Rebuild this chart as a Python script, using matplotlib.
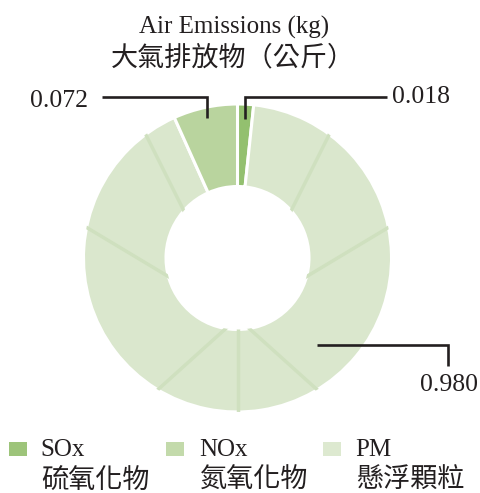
import numpy as np
import matplotlib
matplotlib.use("Agg")
import matplotlib.pyplot as plt
from matplotlib.patches import Rectangle

# ---- data ----
categories_en = ["SOx", "NOx", "PM"]
categories_zh = ["硫氧化物", "氮氧化物", "懸浮顆粒"]
values = [0.018, 0.072, 0.980]
value_labels = ["0.018", "0.072", "0.980"]
title_en = "Air Emissions (kg)"
title_zh = "大氣排放物（公斤）"

# pie order clockwise from 12 o'clock: SOx, PM, NOx
pie_order = [0, 2, 1]

wedge_colors = ["#93c06f", "#b9d49e", "#dae7cd"]
legend_colors = ["#9dc47a", "#c3daab", "#dde9d0"]
vein_colors = ["#86b562", "#abca8d", "#cfe0bf"]

W, H = 481, 493
CX, CY = 237.5, 258.0
R_OUT, R_IN = 154.0, 71.5

serif = ["Liberation Serif", "DejaVu Serif"]
cjk = ["Noto Sans CJK TC", "DejaVu Sans"]
tc = "#231f20"

fig = plt.figure(figsize=(W / 100, H / 100), dpi=100)
ax = fig.add_axes([0, 0, 1, 1])

vals = [values[i] for i in pie_order]
cols = [wedge_colors[i] for i in pie_order]
vcols = [vein_colors[i] for i in pie_order]
wedges, _ = ax.pie(vals, colors=cols, startangle=90, counterclock=False,
                   radius=R_OUT,
                   wedgeprops=dict(width=R_OUT - R_IN, edgecolor="white", linewidth=2.2))
ax.set_xlim(-CX, W - CX)
ax.set_ylim(-(H - CY), CY)
ax.set_aspect("equal")
ax.axis("off")

# faint leaf veins (decorative texture), clipped to each wedge
vein_dirs = [(0, -1), (-1, -0.9), (1, -0.9), (-1, 0.6), (1, 0.6), (-0.5, 1), (0.5, 1)]
for w, vc in zip(wedges, vcols):
    for dx, dy in vein_dirs:
        n = np.hypot(dx, dy)
        L = 170 if dy < 0 else 300
        ln, = ax.plot([0, L * dx / n], [-60, -60 + L * dy / n],
                      color=vc, lw=2.5, zorder=w.get_zorder() + 0.1)
        ln.set_clip_path(w)

def pxy(px, py):
    return px - CX, CY - py

lw = 1.9

def mid_point(idx, r):
    w = wedges[pie_order.index(idx)]
    a = np.deg2rad((w.theta1 + w.theta2) / 2)
    return r * np.cos(a), r * np.sin(a)

vfs = 18.5

# SOx
x0, y0 = mid_point(0, 139)
_, yh = pxy(0, 97)
xe, _ = pxy(387, 0)
ax.plot([x0, x0, xe], [y0, yh, yh], color=tc, lw=lw, solid_capstyle="butt", solid_joinstyle="miter", zorder=5)
tx, ty = pxy(392, 97)
ax.text(tx, ty, value_labels[0], family=serif, fontsize=vfs, color=tc, ha="left", va="center")

# NOx
x0, y0 = mid_point(1, 143)
xe, _ = pxy(102, 0)
ax.plot([x0, x0, xe], [y0, yh, yh], color=tc, lw=lw, solid_capstyle="butt", solid_joinstyle="miter", zorder=5)
tx, ty = pxy(88, 101)
ax.text(tx, ty, value_labels[1], family=serif, fontsize=vfs, color=tc, ha="right", va="center")

# PM
a = np.deg2rad(-47.6)
x0, y0 = 118 * np.cos(a), 118 * np.sin(a)
xe, _ = pxy(448, 0)
_, ye = pxy(0, 366)
ax.plot([x0, xe, xe], [y0, y0, ye], color=tc, lw=lw, solid_capstyle="butt", solid_joinstyle="miter", zorder=5)
tx, ty = pxy(478, 385)
ax.text(tx, ty, value_labels[2], family=serif, fontsize=vfs, color=tc, ha="right", va="center")

# titles
tx, ty = pxy(234, 27)
ax.text(tx, ty, title_en, family=serif, fontsize=18, color=tc, ha="center", va="center")
tx, ty = pxy(233, 58)
ax.text(tx, ty, title_zh, family=cjk, fontsize=19.5, color=tc, ha="center", va="center")

# legend
sq_x = [9, 166, 323]
txt_x = [40, 199, 355]
for i in range(3):
    x, y = pxy(sq_x[i], 456)
    ax.add_patch(Rectangle((x, y), 18, 14, facecolor=legend_colors[i], edgecolor="none"))
    tx, ty = pxy(txt_x[i], 450)
    ax.text(tx, ty, categories_en[i], family=serif, fontsize=18, color=tc, ha="left", va="center")
    tx, ty = pxy(txt_x[i] + 1, 480)
    ax.text(tx, ty, categories_zh[i], family=cjk, fontsize=19.5, color=tc, ha="left", va="center")

fig.savefig("out.png", dpi=100)
